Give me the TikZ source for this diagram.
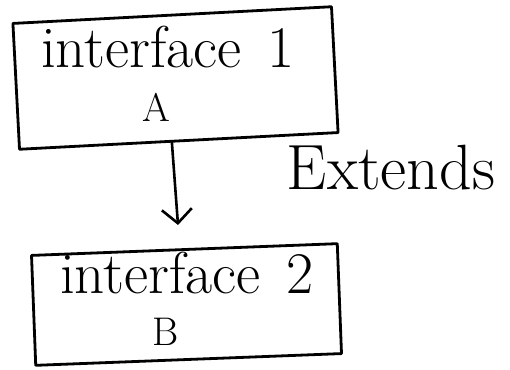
\documentclass[tikz,border=0pt]{standalone}
\usetikzlibrary{arrows.meta}
\begin{document}
\begin{tikzpicture}[x=1pt,y=1pt,
  ifbox/.style={draw, line width=2.8pt, line join=round, inner sep=0pt},
  bigtext/.style={font=\fontsize{59}{64}\selectfont, anchor=base, inner sep=0pt},
  lettertext/.style={font=\fontsize{40}{46}\selectfont, anchor=base, inner sep=0pt},
  extendsarrow/.style={line width=2.6pt, line cap=round,
    -{Straight Barb[length=14pt,width=30pt,line width=2.6pt]}}]
  \useasboundingbox (0,0) rectangle (510,369);
  % the two interface boxes, slightly tilted as drawn
  \node[ifbox, rotate=3, minimum width=319pt, minimum height=126pt] (b1) at (175.5,291) {};
  \node[ifbox, rotate=2.2, minimum width=306pt, minimum height=110pt] (b2) at (186.5,64.5) {};
  % labels inside the boxes
  \node[bigtext] (t1) at (168,301) {interface\hspace{0.45em}1};
  \node[lettertext] (a) at (156,247) {A};
  \node[bigtext] (t2) at (187,76) {interface\hspace{0.45em}2};
  \node[lettertext] (b) at (166,24) {B};
  % the extends relation
  \coordinate (tip) at (178,144);
  \draw[extendsarrow] ([xshift=-7pt]b1.south) -- (tip);
  \node[bigtext, font=\fontsize{64}{70}\selectfont] (ext) at (391,179) {Extends};
\end{tikzpicture}
\end{document}
